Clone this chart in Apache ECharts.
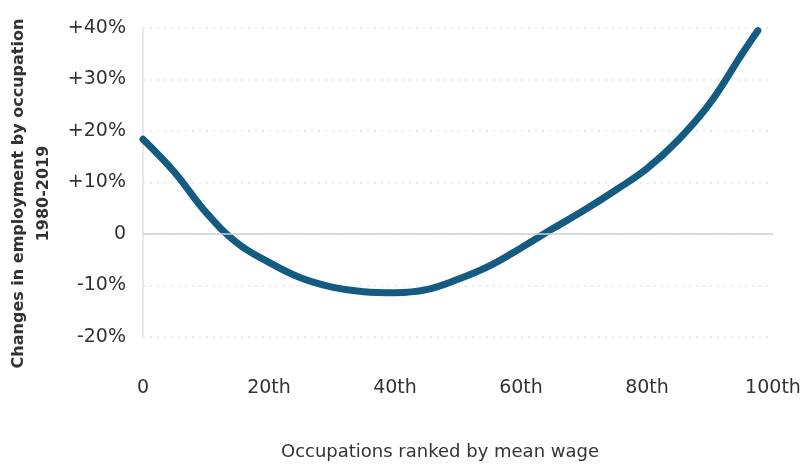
<!DOCTYPE html>
<html>
<head>
<meta charset="utf-8">
<script src="https://cdn.jsdelivr.net/npm/echarts@6/dist/echarts.min.js"></script>
<style>html,body{margin:0;padding:0;background:#fff}#c{width:805px;height:465px}</style>
</head>
<body>
<div id="c"></div>
<script>
// Percentile rank of occupation by mean wage
var percentiles = [0, 5, 10, 15, 20, 25, 30, 35, 40, 45, 50, 55, 60, 65, 70, 75, 80, 85, 90, 95, 97.6];
// Change in employment 1980-2019 (%)
var changes = [18.4, 12.0, 4.2, -1.8, -5.5, -8.5, -10.3, -11.2, -11.4, -10.8, -8.8, -6.2, -2.7, 1.0, 4.6, 8.5, 12.7, 18.3, 25.4, 34.8, 39.5];
var xTickValues = [0, 20, 40, 60, 80, 100];
var xTickLabels = ['0', '20th', '40th', '60th', '80th', '100th'];
var yTickValues = [-20, -10, 0, 10, 20, 30, 40];
var yTickLabels = ['-20%', '-10%', '0', '+10%', '+20%', '+30%', '+40%'];

var points = percentiles.map(function (p, i) { return [p, changes[i]]; });
var font = 'DejaVu Sans';
var chart = echarts.init(document.getElementById('c'), null, { renderer: 'canvas' });
chart.setOption({
  animation: false,
  grid: { left: 143, right: 32, top: 28, bottom: 128, containLabel: false, outerBoundsMode: 'none' },
  xAxis: {
    type: 'value', min: 0, max: 100, interval: 20,
    name: 'Occupations ranked by mean wage',
    nameLocation: 'middle', nameGap: 106,
    nameTextStyle: { fontFamily: font, fontSize: 18, color: '#333', padding: [0, 36, 0, 0] },
    axisLine: { show: false }, axisTick: { show: false }, splitLine: { show: false },
    axisLabel: {
      margin: 42, fontFamily: font, fontSize: 19, color: '#333',
      formatter: function (v) { var i = xTickValues.indexOf(v); return i >= 0 ? xTickLabels[i] : ''; }
    }
  },
  yAxis: {
    type: 'value', min: -20, max: 40, interval: 10,
    name: 'Changes in employment by occupation\n1980-2019',
    nameLocation: 'middle', nameGap: 87, nameRotate: 90,
    nameTextStyle: { fontFamily: font, fontSize: 16, fontWeight: 'bold', color: '#333', lineHeight: 25, padding: [0, 22, 0, 0] },
    axisLine: { show: true, lineStyle: { color: '#e2e2e2', width: 1.5 } },
    axisTick: { show: false },
    splitLine: { show: true, lineStyle: { color: '#e6e6e6', type: [2, 5], width: 1.5 } },
    axisLabel: {
      margin: 17, fontFamily: font, fontSize: 19, color: '#333',
      formatter: function (v) { var i = yTickValues.indexOf(v); return i >= 0 ? yTickLabels[i] : ''; }
    }
  },
  series: [{
    type: 'line', data: points, smooth: 0.4, showSymbol: false,
    lineStyle: { color: '#135b80', width: 7, cap: 'round' },
    markLine: {
      silent: true, symbol: 'none', label: { show: false },
      lineStyle: { color: '#cfcfcf', type: 'solid', width: 1.5 },
      data: [{ yAxis: 0 }]
    },
    z: 3
  }]
});
</script>
</body>
</html>
